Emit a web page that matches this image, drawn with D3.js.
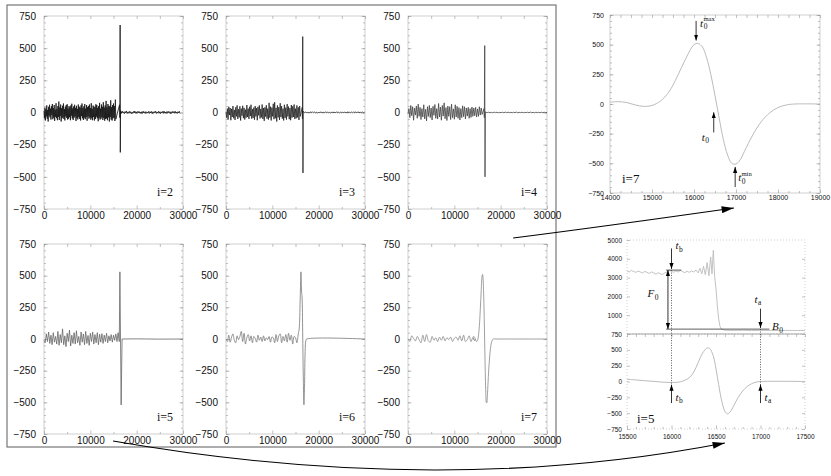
<!DOCTYPE html>
<html>
<head>
<meta charset="utf-8">
<script src="https://cdn.jsdelivr.net/npm/d3@7"></script>
<style>
body { margin: 0; background: #fff; }
svg { display: block; }
.ax path { display: none; }
.ax line { stroke: #999; stroke-width: 0.6; }
.ax text { font-family: "Liberation Sans", Arial, sans-serif; fill: #111; }
.lbl { font-family: "Liberation Serif", "Times New Roman", serif; fill: #111; }
</style>
</head>
<body>
<svg width="831" height="476"></svg>
<script>
// ---- data ----
// i=2 : noise sampled every 100 from t=0, spike, tail every 150 from t=16600
var noise2 = [12,-45,38,-62,25,-30,55,-48,20,-70,44,-25,60,-38,30,-55,48,-20,66,-52,35,-40,58,-65,22,-33,72,-44,28,-60,50,-35,85,-58,40,-28,62,-70,33,-45,52,-38,70,-50,26,-62,45,-30,58,-42,64,-55,30,-48,50,-36,40,-60,55,-25,68,-46,32,-58,47,-40,60,-30,36,-66,52,-44,28,-54,62,-35,45,-50,38,-62,56,-28,70,-45,34,-58,48,-40,66,-52,30,-36,58,-64,42,-30,50,-48,62,-38,35,-56,72,-44,28,-60,54,-35,46,-62,40,-50,64,-32,58,-45,36,-68,50,-40,75,-55,30,-48,62,-36,45,-58,80,-42,38,-64,55,-50,90,-46,40,-60,66,-38,52,-70,48,-35,95,-55,42,-62,58,-45,70,-40,50,-66,100,-52];
var spike2 = [[16300,60],[16380,-40],[16430,680],[16470,-310],[16520,15],[16560,-10]];
var tail2 = [8,-6,10,-4,5,-9,7,-3,12,-8,4,-6,9,-5,6,-10,3,-7,8,-4,11,-6,5,-8,7,-3,9,-5,4,-9,6,-7,10,-4,5,-8,7,-6,3,-5,9,-7,6,-4,8,-10,5,-6,7,-3,10,-8,4,-5,9,-6,6,-9,5,-4,8,-7,11,-5,4,-8,7,-6,9,-3,6,-10,5,-7,8,-4,7,-6,10,-5,4,-8,6,-3,9,-7];

// i=3 : noise every 150, tail every 200
var noise3 = [5,-40,30,-55,45,-20,35,-60,28,-35,50,-45,20,-58,40,-30,55,-50,25,-38,48,-62,30,-25,52,-44,36,-55,22,-40,58,-35,30,-50,45,-28,60,-48,26,-42,38,-56,50,-30,34,-60,44,-22,55,-46,28,-38,62,-50,35,-65,40,-32,56,-48,30,-55,75,-40,45,-62,38,-30,68,-52,80,-45,36,-70,55,-38,42,-58,72,-35,50,-48,30,-62,60,-42,38,-55,65,-30,46,-52,34,-60,58,-40,48,-35,62,-50,30,-45,55,-38,40,-58,50,-30];
var spike3 = [[16450,40],[16500,-50],[16560,590],[16610,-470],[16660,10]];
var tail3 = [4,-3,5,-2,3,-5,2,-4,6,-3,4,-2,5,-4,3,-6,2,-3,5,-2,4,-5,3,-3,6,-2,4,-4,3,-5,2,-3,5,-4,3,-2,6,-3,4,-5,2,-4,5,-3,4,-2,3,-5,6,-3,2,-4,5,-2,3,-4,6,-3,4,-2,5,-4,3,-3,4,-2,3];

// i=4 : noise every 200, tail every 300
var noise4 = [-10,30,-40,55,-25,45,-60,35,-20,50,-45,65,-30,40,-55,30,-35,60,-50,25,-65,45,-30,55,-40,35,-58,48,-22,62,-45,30,-50,70,-35,42,-60,55,-28,75,-48,38,-62,50,-30,45,-55,65,-40,28,-52,60,-35,48,-45,38,-58,30,-40,52,-32,45,-50,35,-28,40,-45,30,-38,42,-30,35,-25,40,-35,28,-30,45,-20,35,-15];
var spike4 = [[16400,30],[16480,-40],[16560,520],[16620,-500],[16700,5]];
var tail4 = [2,-1,2,-2,1,-2,3,-1,2,-2,1,-1,2,-2,3,-1,2,-1,1,-2,2,-1,3,-2,1,-1,2,-2,1,-1,2,-1,3,-2,1,-2,2,-1,1,-2,2,-1,2,-1,1];

// i=5 : noise every 250
var noise5 = [-10,-30,40,-20,55,-35,30,-45,50,-25,20,-40,60,-50,35,-30,80,-45,25,-60,45,-20,70,-55,30,-35,50,-40,65,-30,20,-50,55,-25,40,-45,60,-35,28,-50,45,-20,55,-40,35,-30,50,-45,38,-25,42,-35,30,-20,45,-30,25,-15,35,-25,30,-10,40,-20,50];
var spike5 = [[16250,-20],[16380,530],[16650,-520],[16850,0],[20000,1],[25000,-1],[30000,0]];

// i=6 : smooth noise every 300
var noise6 = [0,-20,30,-25,15,40,-10,-30,25,-5,20,60,-20,45,-40,10,35,-15,25,-30,20,5,-25,30,-10,15,-20,25,-15,10,-5,20,-25,15,10,-30,35,-20,25,40,-30,20,-15,35,-25,45,-10,30,-40,20];
var event6 = [[15000,10],[15300,-30],[15600,40],[15800,80],[16000,300],[16180,530],[16260,420],[16320,370],[16420,330],[16550,50],[16680,-300],[16820,-520],[16900,-430],[16960,-350],[17080,-100],[17250,-10],[17450,0],[30000,0]];

// i=7 : smooth oscillation every 400, then the event (same as the zoomed panel)
var noise7 = [0,-20,25,5,-15,20,-5,-30,30,-20,35,-15,-25,20,-10,10,-20,15,-10,20,-15,10,-5,15,-20,5,15,-10,25,-15,30,-20,-5,25,-20,10,-15];
var zoom7 = [[14000,15],[14200,20],[14400,12],[14600,-8],[14800,-20],[15000,-12],[15200,25],[15400,100],[15600,230],[15800,380],[16000,500],[16100,510],[16200,480],[16300,390],[16400,250],[16500,70],[16600,-120],[16700,-300],[16800,-430],[16900,-500],[17000,-505],[17100,-470],[17200,-400],[17400,-260],[17600,-150],[17800,-75],[18000,-30],[18200,-8],[18400,0],[19000,0]];

// zoomed i=5 : upper (cumulative) and lower traces
var upper5 = [[15500,3350],[15525,3300],[15550,3380],[15575,3320],[15600,3280],[15625,3350],[15650,3300],[15675,3250],[15700,3330],[15725,3280],[15750,3220],[15775,3300],[15800,3250],[15825,3180],[15850,3260],[15875,3200],[15900,3170],[15925,3250],[15950,3300],[15975,3380],[16000,3340],[16025,3280],[16050,3360],[16075,3300],[16100,3380],[16125,3320],[16150,3260],[16175,3340],[16200,3280],[16225,3350],[16250,3300],[16275,3400],[16300,3250],[16320,3500],[16340,3200],[16360,3600],[16380,3150],[16400,3800],[16420,3100],[16440,4100],[16455,3200],[16470,4450],[16485,3050],[16500,2400],[16515,1500],[16530,800],[16545,400],[16560,260],[16600,200],[16700,190],[16800,200],[16900,185],[17000,195],[17100,190],[17200,185],[17300,190],[17400,185],[17500,190]];
var lower5 = [[15500,35],[15600,25],[15700,12],[15800,2],[15900,-10],[16000,-15],[16100,-5],[16200,60],[16250,150],[16300,300],[16350,450],[16400,530],[16430,520],[16470,400],[16500,200],[16530,-50],[16560,-280],[16600,-470],[16630,-510],[16660,-480],[16700,-380],[16750,-250],[16800,-150],[16850,-80],[16900,-35],[16950,-10],[17000,0],[17500,0]];

// annotation times / levels
var t0max = 16050, t0mid = 16470, t0min = 16980;
var tb = 16000, ta = 17000, F0top = 3400, B0 = 260;

var yMajor = [-750,-500,-250,0,250,500,750];
var yMinor = d3.range(-750, 751, 50);

function sampled(vals, t0, dt) {
  return vals.map(function(v, i) { return [t0 + i * dt, v]; });
}

var leftPanels = [
  {name:"2", col:0, row:0, color:"#111", curve:d3.curveLinear,
   pts: sampled(noise2,0,100).concat(spike2, sampled(tail2,16600,150))},
  {name:"3", col:1, row:0, color:"#222", curve:d3.curveLinear,
   pts: sampled(noise3,0,150).concat(spike3, sampled(tail3,16700,200))},
  {name:"4", col:2, row:0, color:"#444", curve:d3.curveLinear,
   pts: sampled(noise4,0,200).concat(spike4, sampled(tail4,16800,300))},
  {name:"5", col:0, row:1, color:"#666", curve:d3.curveLinear,
   pts: sampled(noise5,0,250).concat(spike5)},
  {name:"6", col:1, row:1, color:"#777", curve:d3.curveCatmullRom,
   pts: sampled(noise6,0,300).concat(event6)},
  {name:"7", col:2, row:1, color:"#888", curve:d3.curveCatmullRom,
   pts: sampled(noise7,0,400).concat(zoom7, [[30000,0]])}
];

var svg = d3.select("svg");
var colX = [44, 226, 408], pw = 139;
var rowY = [[16, 209], [244, 434]];
var fmt = d3.format("d");

var defs = svg.append("defs");
defs.append("marker").attr("id","ah").attr("viewBox","0 0 10 10")
  .attr("refX",10).attr("refY",5).attr("markerWidth",6).attr("markerHeight",6)
  .attr("markerUnits","userSpaceOnUse").attr("orient","auto-start-reverse")
  .append("path").attr("d","M0,1.5L10,5L0,8.5z").attr("fill","#000");
defs.append("marker").attr("id","big").attr("viewBox","0 0 14 8")
  .attr("refX",14).attr("refY",4).attr("markerWidth",14).attr("markerHeight",7)
  .attr("markerUnits","userSpaceOnUse").attr("orient","auto")
  .append("path").attr("d","M0,0L14,4L0,8z").attr("fill","#000");

// outer box round the six panels
svg.append("rect").attr("x",7).attr("y",5).attr("width",549).attr("height",442)
  .attr("fill","none").attr("stroke","#777").attr("stroke-width",1.2);

function ticks(g, x, y, xMaj, xMin, yMaj, yMin, fs, pad, dash) {
  var r = x.range(), t = y.range();
  g.append("rect").attr("x",r[0]).attr("y",t[1]).attr("width",r[1]-r[0]).attr("height",t[0]-t[1])
    .attr("fill","none").attr("stroke","#bbb").attr("stroke-width",0.7)
    .attr("stroke-dasharray", dash ? "1,2" : null);
  g.append("g").attr("class","ax").attr("transform","translate(0,"+t[0]+")")
    .call(d3.axisBottom(x).tickValues(xMaj).tickSizeInner(-3.5).tickSizeOuter(0).tickPadding(pad.x).tickFormat(fmt))
    .selectAll("text").style("font-size",fs+"px");
  g.append("g").attr("class","ax").attr("transform","translate(0,"+t[0]+")")
    .call(d3.axisBottom(x).tickValues(xMin).tickSizeInner(-2).tickSizeOuter(0).tickFormat(""));
  g.append("g").attr("class","ax").attr("transform","translate(0,"+t[1]+")")
    .call(d3.axisTop(x).tickValues(xMaj.concat(xMin)).tickSizeInner(-3).tickSizeOuter(0).tickFormat(""));
  if (yMaj) {
    g.append("g").attr("class","ax").attr("transform","translate("+r[0]+",0)")
      .call(d3.axisLeft(y).tickValues(yMaj).tickSizeInner(-3.5).tickSizeOuter(0).tickPadding(pad.y))
      .selectAll("text").style("font-size",fs+"px");
    g.append("g").attr("class","ax").attr("transform","translate("+r[0]+",0)")
      .call(d3.axisLeft(y).tickValues(yMin).tickSizeInner(-2).tickSizeOuter(0).tickFormat(""));
    g.append("g").attr("class","ax").attr("transform","translate("+r[1]+",0)")
      .call(d3.axisRight(y).tickValues(yMin).tickSizeInner(-2).tickSizeOuter(0).tickFormat(""));
    g.append("g").attr("class","ax").attr("transform","translate("+r[1]+",0)")
      .call(d3.axisRight(y).tickValues(yMaj).tickSizeInner(-3.5).tickSizeOuter(0).tickFormat(""));
  }
}

leftPanels.forEach(function(p) {
  var x0 = colX[p.col], yr = rowY[p.row];
  var x = d3.scaleLinear().domain([0,30000]).range([x0, x0+pw]);
  var y = d3.scaleLinear().domain([-750,750]).range([yr[1], yr[0]]);
  var g = svg.append("g");
  ticks(g, x, y, [0,10000,20000,30000], [5000,15000,25000], yMajor, yMinor, 10, {x:3, y:8});
  g.append("path").datum(p.pts)
    .attr("fill","none").attr("stroke",p.color).attr("stroke-width",0.8)
    .attr("d", d3.line().x(function(d){return x(d[0]);}).y(function(d){return y(d[1]);}).curve(p.curve));
  g.append("text").attr("class","lbl").attr("x",x0+pw-10).attr("y",yr[1]-13)
    .attr("text-anchor","end").style("font-size","12px").text("i=" + p.name);
  p.x = x; p.y = y;
});

function mathLabel(x, y, base, sub, sup, size) {
  var t = svg.append("text").attr("class","lbl").attr("x",x).attr("y",y).style("font-size",size+"px");
  t.append("tspan").style("font-style","italic").text(base);
  t.append("tspan").attr("dx",0.5).attr("dy",size*0.22).style("font-size",(size*0.68)+"px").text(sub);
  if (sup) t.append("tspan").attr("dx",-size*0.36).attr("dy",-size*0.72).style("font-size",(size*0.6)+"px").text(sup);
}
function arrow(x1, y1, x2, y2, both) {
  svg.append("line").attr("x1",x1).attr("y1",y1).attr("x2",x2).attr("y2",y2)
    .attr("stroke","#000").attr("stroke-width",0.8)
    .attr("marker-end","url(#ah)").attr("marker-start", both ? "url(#ah)" : null);
}

// ---- zoomed i=7 (top right) ----
var xa = d3.scaleLinear().domain([14000,19000]).range([610,820]);
var ya = d3.scaleLinear().domain([-750,750]).range([193,15]);
var ga = svg.append("g");
ticks(ga, xa, ya, d3.range(14000,19001,1000), d3.range(14250,19000,250).filter(function(v){return v%1000;}),
  yMajor, yMinor, 7, {x:2, y:6});
ga.append("path").datum(zoom7).attr("fill","none").attr("stroke","#bbb").attr("stroke-width",1)
  .attr("d", d3.line().x(function(d){return xa(d[0]);}).y(function(d){return ya(d[1]);}).curve(d3.curveCatmullRom));
ga.append("text").attr("class","lbl").attr("x",622).attr("y",183).style("font-size","13px").text("i=7");
arrow(xa(t0max), ya(700), xa(t0max), ya(535));
mathLabel(xa(t0max)+4, ya(650), "t", "0", "max", 11);
arrow(xa(t0mid), ya(-240), xa(t0mid), ya(-70));
mathLabel(xa(t0mid)-12, ya(-310), "t", "0", null, 11);
arrow(xa(t0min), ya(-700), xa(t0min), ya(-530));
mathLabel(xa(t0min)+3, ya(-650), "t", "0", "min", 11);

// ---- zoomed i=5 (bottom right) ----
var xb = d3.scaleLinear().domain([15500,17500]).range([627,805]);
var yu = d3.scaleLinear().domain([0,5000]).range([334,240]);
var yl = d3.scaleLinear().domain([-750,750]).range([429,334]);
var gb = svg.append("g");
var xbMaj = d3.range(15500,17501,500), xbMin = d3.range(15600,17500,100).filter(function(v){return v%500;});
ticks(gb, xb, yl, xbMaj, xbMin, null, null, 6.5, {x:5, y:5}, true);
gb.append("rect").attr("x",627).attr("y",240).attr("width",178).attr("height",94)
  .attr("fill","none").attr("stroke","#bbb").attr("stroke-width",0.7).attr("stroke-dasharray","1,2");
gb.append("g").attr("class","ax").attr("transform","translate(627,0)")
  .call(d3.axisLeft(yu).tickValues([1000,2000,3000,4000,5000]).tickSizeInner(-3).tickSizeOuter(0).tickPadding(5).tickFormat(fmt))
  .selectAll("text").style("font-size","6.5px");
gb.append("g").attr("class","ax").attr("transform","translate(627,0)")
  .call(d3.axisLeft(yl).tickValues(yMajor).tickSizeInner(-3).tickSizeOuter(0).tickPadding(5))
  .selectAll("text").style("font-size","6.5px");
gb.append("g").attr("class","ax").attr("transform","translate(805,0)")
  .call(d3.axisRight(yu).tickValues([1000,2000,3000,4000]).tickSizeInner(-3).tickSizeOuter(0).tickFormat(""));
gb.append("g").attr("class","ax").attr("transform","translate(805,0)")
  .call(d3.axisRight(yl).tickValues(yMajor).tickSizeInner(-3).tickSizeOuter(0).tickFormat(""));
gb.append("line").attr("x1",627).attr("x2",805).attr("y1",yu(0)).attr("y2",yu(0))
  .attr("stroke","#999").attr("stroke-width",0.8);
gb.append("path").datum(upper5).attr("fill","none").attr("stroke","#bbb").attr("stroke-width",0.9)
  .attr("d", d3.line().x(function(d){return xb(d[0]);}).y(function(d){return yu(d[1]);}));
gb.append("path").datum(lower5).attr("fill","none").attr("stroke","#bbb").attr("stroke-width",1)
  .attr("d", d3.line().x(function(d){return xb(d[0]);}).y(function(d){return yl(d[1]);}).curve(d3.curveCatmullRom));
gb.append("text").attr("class","lbl").attr("x",637).attr("y",423).style("font-size","13px").text("i=5");

// F0 / B0 construction
svg.append("line").attr("x1",xb(15940)).attr("x2",xb(16110)).attr("y1",yu(F0top)).attr("y2",yu(F0top))
  .attr("stroke","#333").attr("stroke-width",0.8);
svg.append("line").attr("x1",xb(15940)).attr("x2",xb(17100)).attr("y1",yu(B0)).attr("y2",yu(B0))
  .attr("stroke","#333").attr("stroke-width",0.8);
arrow(xb(15960), yu(F0top), xb(15960), yu(B0), true);
mathLabel(xb(15730), yu(1950), "F", "0", null, 11);
mathLabel(xb(17130), yu(B0)+1, "B", "0", null, 11);
[[tb, F0top], [ta, B0]].forEach(function(d) {
  svg.append("line").attr("x1",xb(d[0])).attr("x2",xb(d[0])).attr("y1",yu(d[1])).attr("y2",yl(-60))
    .attr("stroke","#333").attr("stroke-width",0.8).attr("stroke-dasharray","1,1.5");
});
arrow(xb(tb), yu(4550), xb(tb), yu(3460));
mathLabel(xb(tb)+4, yu(4500), "t", "b", null, 11);
arrow(xb(ta), yu(1350), xb(ta), yu(320));
mathLabel(xb(ta)-6, yu(1650), "t", "a", null, 11);
arrow(xb(tb), yl(-340), xb(tb), yl(-50));
mathLabel(xb(tb)+4, yl(-300), "t", "b", null, 11);
arrow(xb(ta), yl(-340), xb(ta), yl(-50));
mathLabel(xb(ta)+4, yl(-300), "t", "a", null, 11);

// big connecting arrows
var p7 = leftPanels[5], p5 = leftPanels[3];
var s1 = [p7.x(22700), rowY[1][0]-6], e1 = [xa(16950), 208];
svg.append("path").attr("d","M"+s1+"Q"+[xa(14000)-10, 227]+" "+e1)
  .attr("fill","none").attr("stroke","#000").attr("stroke-width",1.1).attr("marker-end","url(#big)");
var s2 = [p5.x(14900), 441], e2 = [xb(16600), 443];
svg.append("path").attr("d","M"+s2+"Q"+[440, 498]+" "+e2)
  .attr("fill","none").attr("stroke","#000").attr("stroke-width",1.1).attr("marker-end","url(#big)");
</script>
</body>
</html>
